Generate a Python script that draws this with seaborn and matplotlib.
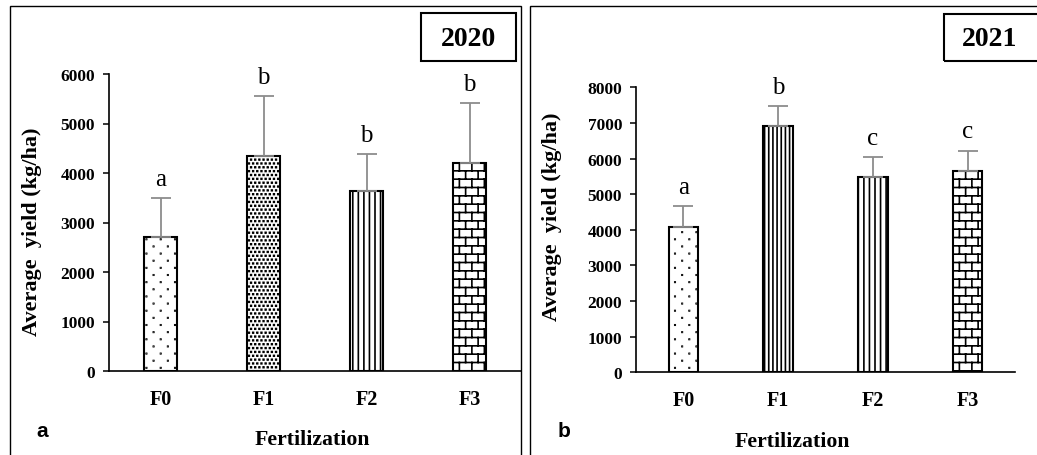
import warnings
warnings.filterwarnings("ignore")
import numpy as np
import matplotlib
matplotlib.use("Agg")
import matplotlib.pyplot as plt
import matplotlib.hatch as mhatch
from matplotlib.path import Path
from matplotlib.patches import Rectangle
import seaborn as sns

# ---------------- data ----------------
fertilization = ["F0", "F1", "F2", "F3"]
yield_2020 = [2700, 4350, 3630, 4210]
err_2020 = [790, 1200, 750, 1200]
letters_2020 = ["a", "b", "b", "b"]
yield_2021 = [4080, 6910, 5470, 5660]
err_2021 = [575, 565, 570, 560]
letters_2021 = ["a", "b", "c", "c"]
yticks_2020 = [0, 1000, 2000, 3000, 4000, 5000, 6000]
yticks_2021 = [0, 1000, 2000, 3000, 4000, 5000, 6000, 7000, 8000]


# ---------------- custom hatches ----------------
class BrickHatch(mhatch.HatchPatternBase):
    def __init__(self, hatch, density):
        self.rows = 12 if "B" in hatch else 0
        self.cols = 8
        self.num_vertices = self.rows * 2 + (self.rows + 1) * self.cols * 2 if self.rows else 0

    def set_vertices_and_codes(self, vertices, codes):
        h = 1.0 / self.rows
        w = 1.0 / self.cols
        i = 0
        for r in range(self.rows):
            y = (r + 0.5) * h
            vertices[i] = (0.0, y)
            vertices[i + 1] = (1.0, y)
            codes[i] = Path.MOVETO
            codes[i + 1] = Path.LINETO
            i += 2
        for r in range(-1, self.rows):
            y0 = (r + 0.5) * h
            off = 0.0 if r % 2 == 0 else w / 2
            for c in range(self.cols):
                x = (c + 0.25) * w + off
                vertices[i] = (x, y0)
                vertices[i + 1] = (x, y0 + h)
                codes[i] = Path.MOVETO
                codes[i + 1] = Path.LINETO
                i += 2


class DotHatch(mhatch.HatchPatternBase):
    char = "D"
    rows_n = 14
    cols_n = 7
    half = 0.002

    def __init__(self, hatch, density):
        self.active = self.char in hatch
        self.num_vertices = self.rows_n * self.cols_n * 5 if self.active else 0

    def set_vertices_and_codes(self, vertices, codes):
        i = 0
        s = self.half
        for r in range(self.rows_n):
            y = (r + 0.5) / self.rows_n
            for c in range(self.cols_n):
                x = (c + 0.25 + 0.5 * (r % 2)) / self.cols_n
                vertices[i:i + 5] = [(x - s, y - s), (x + s, y - s), (x + s, y + s),
                                     (x - s, y + s), (x - s, y - s)]
                codes[i:i + 5] = [Path.MOVETO, Path.LINETO, Path.LINETO,
                                  Path.LINETO, Path.CLOSEPOLY]
                i += 5


class StippleHatch(DotHatch):
    char = "S"
    rows_n = 26
    cols_n = 24
    half = 0.0035


mhatch._hatch_types.extend([BrickHatch, DotHatch, StippleHatch])

# ---------------- style ----------------
sns.set_style("white")
plt.rcParams["font.family"] = ["Liberation Serif", "DejaVu Serif"]
plt.rcParams["hatch.linewidth"] = 1.2
plt.rcParams["hatch.color"] = "black"
for k in ["text.color", "axes.labelcolor", "xtick.color", "ytick.color", "axes.edgecolor"]:
    plt.rcParams[k] = "black"

W, H = 1037, 456
fig = plt.figure(figsize=(W / 100, H / 100), dpi=100)


def fx(x):
    return x / W


def fy(y):
    return 1 - y / H


def panel(ax_box, vals, errs, letters, hatches, yticks, bar_w):
    l, t, r, b = ax_box
    ax = fig.add_axes([fx(l), fy(b), fx(r) - fx(l), fy(t) - fy(b)])
    sns.barplot(x=fertilization, y=vals, ax=ax, color="white", saturation=1,
                edgecolor="black", linewidth=1.5, width=bar_w, errorbar=None)
    centers = []
    for p, h in zip(ax.patches, hatches):
        p.set_hatch(h)
        centers.append(p.get_x() + p.get_width() / 2)
    ax.errorbar(centers, vals, yerr=[np.zeros(len(vals)), errs], fmt="none",
                ecolor="#8c8c8c", elinewidth=1.3, capsize=7, capthick=1.3, zorder=3)
    for xc, v, e, lt in zip(centers, vals, errs, letters):
        ax.annotate(lt, xy=(xc, v + e), xytext=(0, 14), textcoords="offset points",
                    ha="center", va="center", fontsize=18, family="Liberation Serif",
                    color="black")
    ax.set_ylim(yticks[0], yticks[-1])
    ax.set_xlim(-0.5, len(fertilization) - 0.5)
    ax.set_yticks(yticks)
    ax.set_yticklabels([str(v) for v in yticks], fontsize=12.5, fontweight="bold")
    ax.set_xticks(range(len(fertilization)))
    ax.set_xticklabels(fertilization, fontsize=14.5, fontweight="bold")
    ax.tick_params(axis="y", direction="out", length=4, width=1.1, pad=6, left=True,
                   colors="black")
    ax.tick_params(axis="x", length=0, pad=13, colors="black")
    for sp in ["top", "right"]:
        ax.spines[sp].set_visible(False)
    for sp in ["left", "bottom"]:
        ax.spines[sp].set_color("black")
        ax.spines[sp].set_linewidth(1.2)
    ax.set_xlabel("")
    ax.set_ylabel("")
    ax.set_facecolor("none")
    return ax


ax1 = panel((109, 75, 521, 372), yield_2020, err_2020, letters_2020,
            ["D", "S", "|||", "B"], yticks_2020, 0.32)
ax2 = panel((636, 88.3, 1015, 373.3), yield_2021, err_2021, letters_2021,
            ["D", "||||", "|||", "B"], yticks_2021, 0.31)

# axis titles
fig.text(fx(32), fy(232), "Average  yield (kg/ha)", rotation=90, ha="center", va="center",
         fontsize=16, fontweight="bold")
fig.text(fx(312), fy(440), "Fertilization", ha="center", va="center",
         fontsize=15.7, fontweight="bold")
fig.text(fx(552), fy(217), "Average  yield (kg/ha)", rotation=90, ha="center", va="center",
         fontsize=16, fontweight="bold")
fig.text(fx(792), fy(442), "Fertilization", ha="center", va="center",
         fontsize=15.7, fontweight="bold")

# panel letters
fig.text(fx(42), fy(432), "a", ha="center", va="center", fontsize=15,
         fontweight="bold", family="Liberation Sans")
fig.text(fx(564), fy(432), "b", ha="center", va="center", fontsize=15,
         fontweight="bold", family="Liberation Sans")

# panel frames
for (x0, y0, x1, y1) in [(10, 7, 521, 475), (530, 7, 1050, 475)]:
    fig.add_artist(Rectangle((fx(x0), fy(y1)), fx(x1) - fx(x0), fy(y0) - fy(y1),
                             transform=fig.transFigure, fill=False, edgecolor="black",
                             linewidth=1.0))

# year boxes
for (x0, y0, x1, y1, txt, tx) in [(421, 14, 516, 62, "2020", 468),
                                   (944, 15, 1050, 62, "2021", 990)]:
    fig.add_artist(Rectangle((fx(x0), fy(y1)), fx(x1) - fx(x0), fy(y0) - fy(y1),
                             transform=fig.transFigure, fill=False, edgecolor="black",
                             linewidth=1.5))
    fig.text(fx(tx), fy((y0 + y1) / 2 + 1), txt, ha="center", va="center",
             fontsize=20, fontweight="bold")

fig.savefig("out.png", dpi=100)
